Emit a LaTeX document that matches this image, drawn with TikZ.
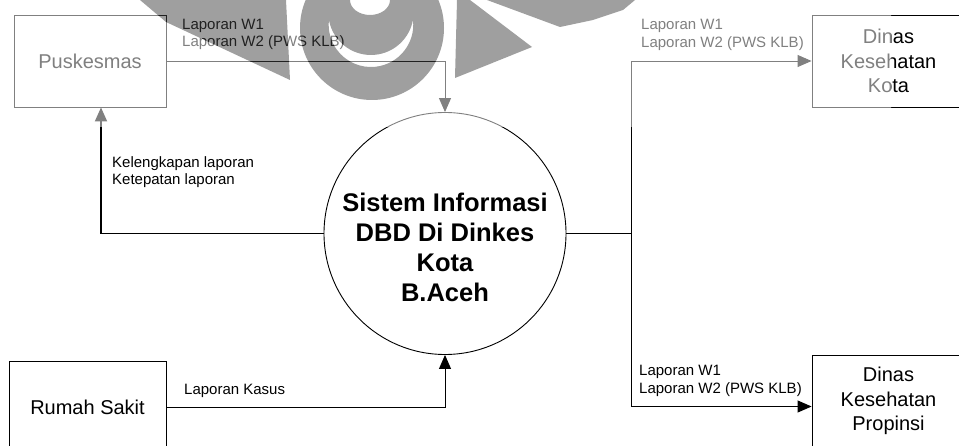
\documentclass[tikz,border=0pt]{standalone}
\usepackage{fontspec}
\setmainfont{Liberation Sans}
\usetikzlibrary{arrows.meta}
\definecolor{wmark}{HTML}{404040}

% outlines of the faint logo printed across the top of the page
\def\wmshapes{%
  (140,0) -- (286,0) -- (290,80) -- (166,22) -- cycle
  (372,28) circle[radius=72]
  (413,20) arc[start angle=-6.4, end angle=186.4, radius=42.3]
           arc[start angle=169.6, end angle=10.4, radius=42.7] -- cycle
  (370,0) ellipse[x radius=20, y radius=15]
  (457,0) -- (470,0) -- (532,47) -- (455,78) -- cycle
  (487,0) -- (560,27) -- (593,20) -- (623,10) -- (635,0) -- cycle}

\begin{document}
\begin{tikzpicture}[x=1pt, y=-1pt,
  entity/.style={draw, line width=0.9pt, minimum width=152pt, minimum height=92pt,
    inner sep=0pt, align=center, font=\fontsize{20}{24.5}\selectfont},
  process/.style={draw, circle, line width=0.9pt, minimum size=242pt, inner sep=0pt},
  proctext/.style={align=center, inner sep=0pt, font=\fontsize{25.5}{30}\selectfont\bfseries},
  flowlabel/.style={anchor=west, align=left, inner sep=0pt, font=\fontsize{15}{17.5}\selectfont},
  flow/.style={line width=0.9pt, -{Triangle[length=14pt, width=12pt]}},
  feedback/.style={line width=1.8pt, -{Triangle[length=14pt, width=12pt]}}
]
\useasboundingbox (0,0) rectangle (959,446);

% external entities and the process
\node[entity] (pusk) at (90,61) {Puskesmas};
\node[entity, minimum width=157pt] (rs) at (87.5,407) {Rumah Sakit};
\node[entity, minimum width=153pt] (kota) at (888.5,61) {Dinas\\Kesehatan\\Kota};
\node[entity, minimum width=153pt] (prop) at (888.5,401) {Dinas\\Kesehatan\\Propinsi};
\node[process] (sys) at (445,233.5) {};
\node[proctext] (systext) at (445,247.5) {Sistem Informasi\\DBD Di Dinkes\\Kota\\B.Aceh};

% data flows
\draw[flow] (pusk.east) -| (sys.north);
\draw[feedback] (sys.west) -| ([xshift=11pt]pusk.south);
\draw[flow] (rs.east) -| (sys.south);
\coordinate (split) at (631,233.5);
\draw[line width=0.9pt] (sys.east) -- (split);
\draw[flow] (split) |- (kota.west);
\draw[flow] (split) |- ([yshift=-5.5pt]prop.west);

% flow labels
\node[flowlabel] (lpusk) at (182,34.6) {Laporan W1\\Laporan W2 (PWS KLB)};
\node[flowlabel] (lfeed) at (112,172) {Kelengkapan laporan\\Ketepatan laporan};
\node[flowlabel] (lrs) at (184,390.6) {Laporan Kasus};
\node[flowlabel] (lkota) at (641,35) {Laporan W1\\Laporan W2 (PWS KLB)};
\node[flowlabel] (lprop) at (639,381) {Laporan W1\\Laporan W2 (PWS KLB)};

% watermark: pale wash over the top band, darker logo shapes
\fill[white, opacity=0.5, even odd rule] (0,0) rectangle (891,127) \wmshapes;
\fill[wmark, opacity=0.5, even odd rule] \wmshapes;
\end{tikzpicture}
\end{document}
